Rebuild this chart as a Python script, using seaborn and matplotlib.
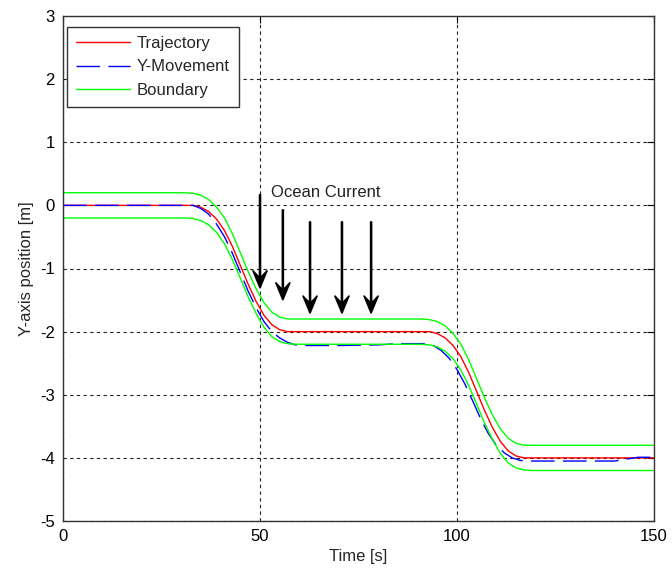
import matplotlib
matplotlib.use("Agg")
import matplotlib.pyplot as plt
import seaborn as sns
import pandas as pd

# ---- data ----
t_traj = [0, 31, 33, 35, 37, 39, 41, 43, 45, 47, 49, 51, 53, 55, 57, 59,
          91, 93, 95, 97, 99, 101, 103, 105, 107, 109, 111, 113, 115, 117, 119, 150]
y_traj = [0, 0, 0, -0.03, -0.10, -0.22, -0.40, -0.65, -0.95, -1.25, -1.52, -1.74, -1.89, -1.97, -2.0, -2.0,
          -2.0, -2.0, -2.03, -2.10, -2.22, -2.40, -2.65, -2.95, -3.25, -3.52, -3.74, -3.89, -3.97, -4.0, -4.0, -4.0]
y_upper = [0.2, 0.2, 0.19, 0.16, 0.09, -0.03, -0.20, -0.45, -0.75, -1.05, -1.32, -1.54, -1.69, -1.77, -1.80, -1.80,
           -1.80, -1.81, -1.84, -1.91, -2.03, -2.20, -2.45, -2.75, -3.05, -3.32, -3.54, -3.69, -3.77, -3.80, -3.80, -3.80]
y_lower = [-0.2, -0.2, -0.21, -0.24, -0.31, -0.43, -0.61, -0.86, -1.15, -1.45, -1.71, -1.93, -2.08, -2.16, -2.19, -2.2,
           -2.2, -2.21, -2.24, -2.31, -2.43, -2.61, -2.86, -3.15, -3.45, -3.71, -3.93, -4.08, -4.16, -4.19, -4.2, -4.2]

t_move = [0, 33, 35, 37, 39, 41, 43, 45, 47, 49, 51, 53, 55, 57, 59, 62, 70, 80, 85, 92,
          94, 96, 98, 100, 102, 104, 106, 108, 110, 112, 114, 116, 118, 140, 143, 146, 150]
y_move = [0, 0, -0.05, -0.14, -0.30, -0.50, -0.76, -1.06, -1.36, -1.62, -1.84, -2.0, -2.1, -2.17, -2.21, -2.22,
          -2.22, -2.21, -2.19, -2.19, -2.22, -2.30, -2.42, -2.60, -2.83, -3.10, -3.38, -3.62, -3.80, -3.92,
          -4.0, -4.04, -4.05, -4.05, -4.02, -3.99, -3.99]

arrow_x = [50.0, 55.8, 62.7, 70.8, 78.2]
arrow_y0 = [0.17, -0.07, -0.26, -0.26, -0.26]
arrow_y1 = [-1.31, -1.50, -1.71, -1.71, -1.71]
annot_text = "Ocean Current"

x_ticks = [0, 50, 100, 150]
y_ticks = [-5, -4, -3, -2, -1, 0, 1, 2, 3]

series_names = ["Trajectory", "Y-Movement", "Boundary"]

# ---- styling ----
sns.set_style("white")
plt.rcParams["font.family"] = ["Liberation Sans", "DejaVu Sans"]
plt.rcParams["font.size"] = 12
plt.rcParams["axes.unicode_minus"] = False

fig = plt.figure(figsize=(6.72, 5.73), dpi=100)
ax = fig.add_axes([63 / 672, 52 / 573, 591 / 672, 505 / 573])

df_traj = pd.DataFrame({"t": t_traj, "y": y_traj, "up": y_upper, "lo": y_lower})
df_move = pd.DataFrame({"t": t_move, "y": y_move})

sns.lineplot(data=df_traj, x="t", y="y", ax=ax, color="#ff0000", lw=1.0,
             label=series_names[0], errorbar=None, sort=False)
sns.lineplot(data=df_move, x="t", y="y", ax=ax, color="#0000ff", lw=1.0,
             linestyle=(0, (17, 6)), label=series_names[1], errorbar=None, sort=False)
sns.lineplot(data=df_traj, x="t", y="up", ax=ax, color="#00ff00", lw=1.0,
             label=series_names[2], errorbar=None, sort=False)
sns.lineplot(data=df_traj, x="t", y="lo", ax=ax, color="#00ff00", lw=1.0,
             errorbar=None, sort=False)

for x, y0, y1 in zip(arrow_x, arrow_y0, arrow_y1):
    ax.arrow(x, y0, 0, y1 - y0, width=0.3, head_width=3.7, head_length=0.28,
             overhang=0.4, length_includes_head=True, color="black", zorder=5)

ax.text(52.8, 0.2, annot_text, ha="left", va="center", fontsize=12, color="#222222")

ax.set_xlim(0, 150)
ax.set_ylim(-5, 3)
ax.set_xticks(x_ticks)
ax.set_yticks(y_ticks)
ax.set_xlabel("Time [s]", fontsize=12, labelpad=3)
ax.set_ylabel("Y-axis position [m]", fontsize=12, labelpad=4)
ax.grid(True, linestyle=(0, (3, 3)), color="#222222", lw=0.8)
ax.tick_params(direction="in", length=5, width=0.8, top=True, right=True,
               labelsize=12, pad=6, colors="black")
for s in ax.spines.values():
    s.set_visible(True)
    s.set_color("#333333")
    s.set_linewidth(1.0)

leg = ax.legend(loc="upper left", bbox_to_anchor=(4 / 591, 1 - 11 / 505), borderaxespad=0,
                frameon=True, fancybox=False, edgecolor="#333333", framealpha=1,
                handlelength=3.2, handletextpad=0.45, labelspacing=0.5, borderpad=0.55,
                fontsize=12)
leg.get_frame().set_linewidth(1.0)

fig.savefig("out.png", dpi=100)
